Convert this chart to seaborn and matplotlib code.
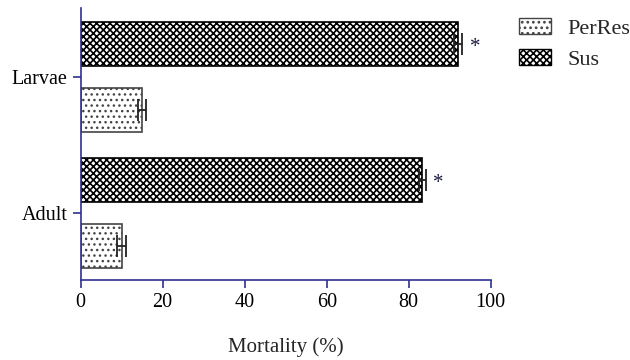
import matplotlib
matplotlib.use("Agg")
import matplotlib.pyplot as plt
import seaborn as sns
import pandas as pd
import numpy as np
from matplotlib.patches import Patch

stages = ["Larvae", "Adult"]
strains = ["PerRes", "Sus"]
perres_vals = [15.0, 10.0]
perres_err = [1.0, 1.1]
sus_vals = [92.1, 83.3]
sus_err = [1.0, 0.8]
xticks = [0, 20, 40, 60, 80, 100]

df = pd.DataFrame({
    "Stage": stages * 2,
    "Strain": ["PerRes"] * 2 + ["Sus"] * 2,
    "Mortality": perres_vals + sus_vals,
    "Err": perres_err + sus_err,
})

sns.set_style("ticks")
plt.rcParams["font.family"] = ["Liberation Serif", "DejaVu Serif"]
plt.rcParams["hatch.linewidth"] = 1.2

navy = "#2E3192"
fig = plt.figure(figsize=(6.3, 3.6), dpi=100)
ax = fig.add_axes([0.128, 0.222, 0.651, 0.756])

plot_order = ["Sus", "PerRes"]
sns.barplot(data=df, y="Stage", x="Mortality", hue="Strain", order=stages,
            hue_order=plot_order, orient="h", width=0.97, gap=0.333,
            errorbar=None, ax=ax, legend=False)

hatches = {"Sus": "xxxxx", "PerRes": "..."}
hatch_lw = {"Sus": 1.2, "PerRes": 1.0}
edges = {"Sus": "black", "PerRes": "#444444"}


def style_patch(p, strain):
    p.set_facecolor("white")
    p.set_edgecolor(edges[strain])
    p.set_hatch(hatches[strain])
    if hasattr(p, "set_hatch_linewidth"):
        p.set_hatch_linewidth(hatch_lw[strain])


for container, strain in zip(ax.containers, plot_order):
    sub = df[df["Strain"] == strain].set_index("Stage").loc[stages]
    ys = []
    for bar in container:
        style_patch(bar, strain)
        bar.set_linewidth(1.2)
        ys.append(bar.get_y() + bar.get_height() / 2)
    ax.errorbar(sub["Mortality"].values, ys, xerr=sub["Err"].values,
                fmt="none", ecolor="#222222", elinewidth=1.3,
                capsize=8, capthick=1.3, zorder=5)
    if strain == "Sus":
        for v, e, y in zip(sub["Mortality"].values, sub["Err"].values, ys):
            ax.text(v + e + 1.8, y + 0.02, "*", color="#1a1a40", fontsize=15,
                    ha="left", va="center")

ax.set_xlim(0, 100)
ax.set_ylim(1.49, -0.51)
ax.set_xticks(xticks)
ax.set_xticklabels([str(t) for t in xticks])
ax.tick_params(axis="both", labelsize=14.5, length=6, width=1.2, color=navy,
               labelcolor="black")
ax.set_xlabel("Mortality (%)", fontsize=15, labelpad=18)
ax.set_ylabel("")
for s in ["top", "right"]:
    ax.spines[s].set_visible(False)
for s in ["left", "bottom"]:
    ax.spines[s].set_color(navy)
    ax.spines[s].set_linewidth(1.2)

handles = []
for s in strains:
    p = Patch(label=s)
    style_patch(p, s)
    handles.append(p)
ax.legend(handles=handles, loc="upper left", bbox_to_anchor=(1.03, 1.02),
          frameon=False, fontsize=16, handlelength=1.45, handleheight=0.75,
          handletextpad=0.75, labelspacing=0.45, borderaxespad=0.3)

fig.savefig("out.png", dpi=100)
